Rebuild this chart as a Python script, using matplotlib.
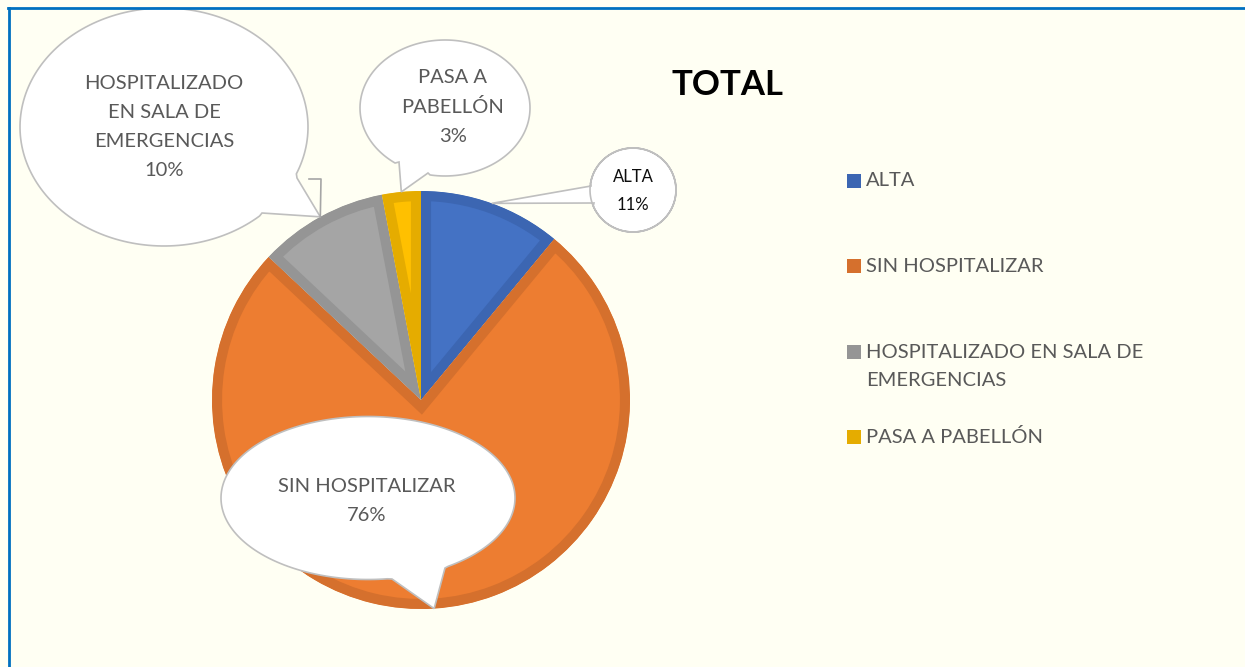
import numpy as np
import matplotlib
matplotlib.use("Agg")
import matplotlib.pyplot as plt
from matplotlib.patches import Polygon, Rectangle
from matplotlib.lines import Line2D

# datos del gráfico
categorias = ["ALTA", "SIN HOSPITALIZAR", "HOSPITALIZADO EN SALA DE EMERGENCIAS", "PASA A PABELLÓN"]
valores = [11, 76, 10, 3]
etiquetas_burbuja = ["ALTA\n11%", "SIN HOSPITALIZAR\n76%", "HOSPITALIZADO\nEN SALA DE\nEMERGENCIAS\n10%",
                     "PASA A\nPABELLÓN\n3%"]
etiquetas_leyenda = ["ALTA", "SIN HOSPITALIZAR", "HOSPITALIZADO EN SALA DE\nEMERGENCIAS", "PASA A PABELLÓN"]
titulo = "TOTAL"

colores = ["#4472C4", "#ED7D31", "#A5A5A5", "#FFC000"]
bordes = ["#3C66B2", "#D5702D", "#959595", "#E5AC00"]

W, H = 1245, 667
FONDO = "#FFFFF3"
GRIS_TXT = "#595959"

plt.rcParams['font.family'] = ['Lato', 'DejaVu Sans']


def Y(y):
    # pasar de coordenada de pantalla (desde arriba) a coordenada del eje
    return H - y


fig = plt.figure(figsize=(W / 100, H / 100), dpi=100, facecolor=FONDO)
ax = fig.add_axes([0, 0, 1, 1])
ax.set_facecolor(FONDO)

# torta: empieza arriba y va en sentido horario
cx, cy, R = 421, Y(400), 209
wedges, _ = ax.pie(valores, colors=colores, startangle=90, counterclock=False,
                   center=(cx, cy), radius=R,
                   wedgeprops=dict(linewidth=14.5, joinstyle='miter'))
for w, c in zip(wedges, bordes):
    w.set_edgecolor(c)
    w.set_clip_on(True)
    w.set_clip_path(w)  # borde solo hacia adentro

ax.set_xlim(0, W)
ax.set_ylim(0, H)
ax.set_aspect('equal')
ax.axis('off')


def punta(w):
    ang = np.deg2rad((w.theta1 + w.theta2) / 2)
    return (cx + R * np.cos(ang), cy + R * np.sin(ang))


def burbuja(ex, ey, ew, eh, b1, b2, tip):
    # elipse con cola tipo globo de diálogo
    ey = Y(ey)
    a, b = ew / 2, eh / 2
    b1 = (b1[0], Y(b1[1]))
    b2 = (b2[0], Y(b2[1]))
    t1 = np.arctan2((b1[1] - ey) / b, (b1[0] - ex) / a)
    t2 = np.arctan2((b2[1] - ey) / b, (b2[0] - ex) / a)
    d = (t2 - t1) % (2 * np.pi)
    if d < np.pi:
        ts = np.linspace(t2, t1 + 2 * np.pi, 200)
        ini, fin = b2, b1
    else:
        ts = np.linspace(t1, t2 + 2 * np.pi, 200)
        ini, fin = b1, b2
    pts = [ini] + [(ex + a * np.cos(t), ey + b * np.sin(t)) for t in ts[1:-1]] + [fin, tip]
    ax.add_patch(Polygon(pts, closed=True, facecolor="white", edgecolor="#BFBFBF",
                         linewidth=1.2, zorder=5))


# ALTA
burbuja(633, 190, 86, 84, (591, 186), (594, 203), punta(wedges[0]))
ax.text(633, Y(191), etiquetas_burbuja[0], ha='center', va='center', fontsize=12,
        color="#0D0D0D", linespacing=2.0, zorder=6)

# SIN HOSPITALIZAR
burbuja(368, 498, 294, 163, (392, 579), (445, 568), punta(wedges[1]))
ax.text(367, Y(501), etiquetas_burbuja[1], ha='center', va='center', fontsize=14.5,
        color=GRIS_TXT, linespacing=1.9, zorder=6)

# HOSPITALIZADO
t_h = punta(wedges[2])
burbuja(164, 127, 288, 238, (262, 213), (297, 178), t_h)
ax.plot([309, 321, t_h[0]], [Y(179), Y(179), t_h[1]], color="#A6A6A6", linewidth=1.2, zorder=6)
ax.text(164, Y(127), etiquetas_burbuja[2], ha='center', va='center', fontsize=14.5,
        color=GRIS_TXT, linespacing=1.84, zorder=6)

# PASA A PABELLÓN
burbuja(445, 108, 170, 136, (399, 162), (428, 173), punta(wedges[3]))
ax.text(453, Y(107), etiquetas_burbuja[3], ha='center', va='center', fontsize=14.5,
        color=GRIS_TXT, linespacing=1.84, zorder=6)

# título
ax.text(728, Y(85), titulo, ha='center', va='center', fontsize=25, fontweight='bold', color='black')

# leyenda manual
ley_y = [181, 266, 352, 437]
for yy, lab, c in zip(ley_y, etiquetas_leyenda, bordes):
    ax.add_patch(Rectangle((847, Y(yy) - 7), 14, 14, facecolor=c, edgecolor='none'))
    ty = yy + 14.5 * lab.count('\n')
    ax.text(866, Y(ty), lab, ha='left', va='center',
            fontsize=14.5, color=GRIS_TXT, linespacing=1.84)

# marco azul (arriba e izquierda)
fig.add_artist(Line2D([8 / W, 1], [1 - 8 / H, 1 - 8 / H], color="#0070C0", linewidth=2))
fig.add_artist(Line2D([9 / W, 9 / W], [0, 1 - 8 / H], color="#0070C0", linewidth=2))

fig.savefig("out.png", dpi=100, facecolor=FONDO)
